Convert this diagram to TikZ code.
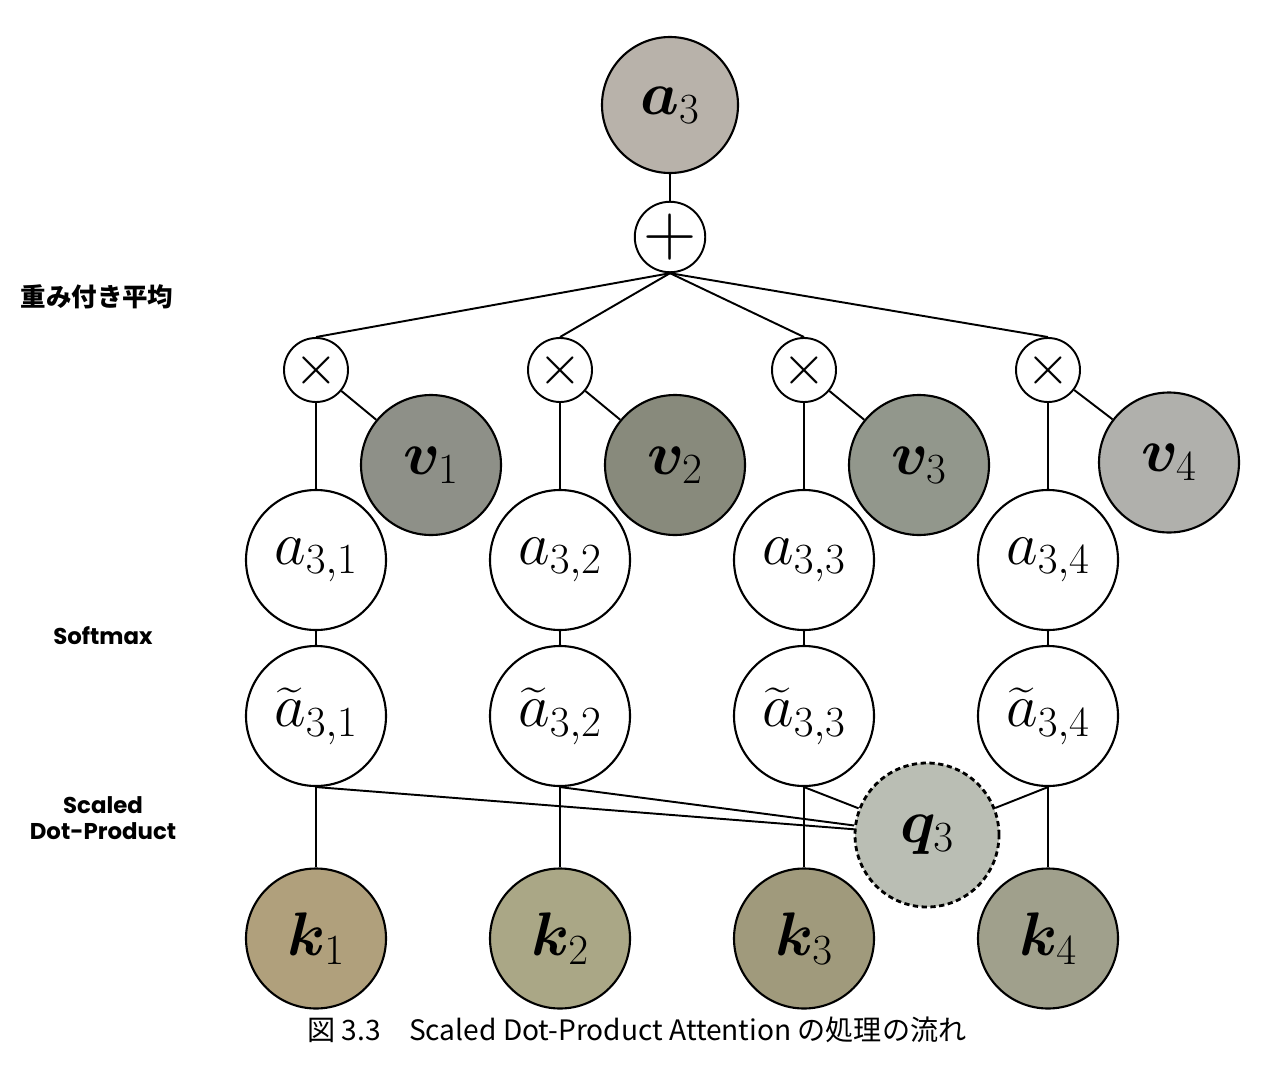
\documentclass[tikz,border=0pt]{standalone}
\usepackage{fix-cm}
\usepackage{amsmath}
\usepackage{bm}
\usepackage{fontspec}
\newfontfamily\jpfont{Noto Sans CJK JP}
\newfontfamily\lblfont{Poppins}
\usetikzlibrary{positioning}

\definecolor{agray}{RGB}{184,178,170}
\definecolor{vone}{RGB}{142,144,136}
\definecolor{vtwo}{RGB}{136,138,124}
\definecolor{vthree}{RGB}{146,151,140}
\definecolor{vfour}{RGB}{176,176,172}
\definecolor{qgray}{RGB}{186,190,180}
\definecolor{kone}{RGB}{176,160,124}
\definecolor{ktwo}{RGB}{170,167,134}
\definecolor{kthree}{RGB}{160,154,124}
\definecolor{kfour}{RGB}{160,160,140}

\newcommand{\mathsz}{\fontsize{35}{40}\selectfont}

\tikzset{
  unit/.style={circle,draw,line width=1.2pt,minimum size=2.8cm,inner sep=0pt,font=\mathsz},
  op/.style={circle,draw,line width=1.1pt,minimum size=1.28cm,inner sep=0pt,font=\fontsize{32}{32}\selectfont},
  tag/.style={font=\lblfont\bfseries\fontsize{13}{15}\selectfont,align=center}
}

\begin{document}
\begin{tikzpicture}[node distance=4.88cm,on grid,line width=1.1pt]
  \useasboundingbox (0,0) rectangle (25.52,-21.48);
  \fill[white] (0,0) rectangle (25.52,-21.48);

  % output and sum
  \node[unit,fill=agray,minimum size=2.72cm] (a3) at (13.4,-2.1) {$\bm{a}_3$};
  \node[op,font=\fontsize{42}{42}\selectfont] (plus) [below=2.64cm of a3] {$+$};

  % weights
  \node[unit] (a31) at (6.32,-11.2) {$a_{3,1}$};
  \node[unit] (a32) [right=of a31] {$a_{3,2}$};
  \node[unit] (a33) [right=of a32] {$a_{3,3}$};
  \node[unit] (a34) [right=of a33] {$a_{3,4}$};

  % products
  \node[op] (x1) [above=3.8cm of a31] {$\times$};
  \node[op] (x2) [above=3.8cm of a32] {$\times$};
  \node[op] (x3) [above=3.8cm of a33] {$\times$};
  \node[op] (x4) [above=3.8cm of a34] {$\times$};

  % values
  \node[unit,fill=vone] (v1) [above right=1.9cm and 2.3cm of a31] {$\bm{v}_1$};
  \node[unit,fill=vtwo] (v2) [above right=1.9cm and 2.3cm of a32] {$\bm{v}_2$};
  \node[unit,fill=vthree] (v3) [above right=1.9cm and 2.3cm of a33] {$\bm{v}_3$};
  \node[unit,fill=vfour] (v4) [above right=1.95cm and 2.42cm of a34] {$\bm{v}_4$};

  % scores
  \node[unit] (ta1) [below=3.12cm of a31] {$\widetilde{a}_{3,1}$};
  \node[unit] (ta2) [below=3.12cm of a32] {$\widetilde{a}_{3,2}$};
  \node[unit] (ta3) [below=3.12cm of a33] {$\widetilde{a}_{3,3}$};
  \node[unit] (ta4) [below=3.12cm of a34] {$\widetilde{a}_{3,4}$};

  % keys and query
  \node[unit,fill=kone] (k1) [below=4.45cm of ta1] {$\bm{k}_1$};
  \node[unit,fill=ktwo] (k2) [below=4.45cm of ta2] {$\bm{k}_2$};
  \node[unit,fill=kthree] (k3) [below=4.45cm of ta3] {$\bm{k}_3$};
  \node[unit,fill=kfour] (k4) [below=4.45cm of ta4] {$\bm{k}_4$};
  \node[unit,fill=qgray,densely dashed,line width=1.6pt,minimum size=2.88cm] (q3) at (18.54,-16.7) {$\bm{q}_3$};

  \draw (a3) -- (plus);
  \foreach \i in {1,...,4} {
    \draw (plus.south) -- (x\i.north);
    \draw (x\i.south) -- (a3\i.north);
    \draw (x\i) -- (v\i);
    \draw (a3\i) -- (ta\i);
    \draw (ta\i.south) -- (k\i.north);
    \draw (ta\i.south) -- (q3);
  }

  % side labels
  \node[tag,font=\jpfont\bfseries\fontsize{14.5}{16}\selectfont] (lwavg) at (1.94,-5.94) {重み付き平均};
  \node[tag] (lsoft) at (2.06,-12.72) {Softmax};
  \node[tag] (lsdp) at (2.06,-16.36) {Scaled\\Dot-Product};

  \node[font=\jpfont\fontsize{16}{18}\selectfont] (cap) at (12.74,-20.6) {図 3.3\quad Scaled Dot-Product Attention の処理の流れ};
\end{tikzpicture}
\end{document}
